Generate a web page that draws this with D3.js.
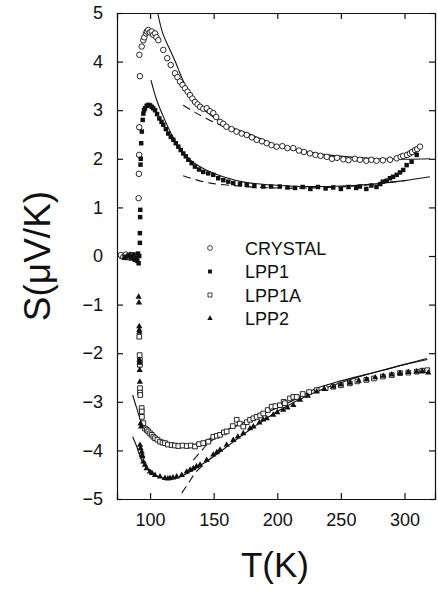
<!DOCTYPE html>
<html>
<head>
  <style>
    body { margin: 0; background: #fff; font-family: "Liberation Sans", Arial, sans-serif; }
    .axis text { font-size: 18px; fill: #111; font-family: "Liberation Sans", Arial, sans-serif; }
    .axis path, .axis line { stroke: #111; stroke-width: 1.2; }
    .fit { fill: none; stroke: #111; stroke-width: 1.1; }
    .dash { fill: none; stroke: #111; stroke-width: 1.1; stroke-dasharray: 8,5; }
    .title { fill: #111; }
  </style>
</head>
<body>
  <script src="https://d3js.org/d3.v7.min.js"></script>
  <script>
    // tick labels
    var xTicks = [100, 150, 200, 250, 300];
    var yTicks = [-5, -4, -3, -2, -1, 0, 1, 2, 3, 4, 5];
    var legendNames = ["CRYSTAL", "LPP1", "LPP1A", "LPP2"];

    // CRYSTAL (open circles)
    var crystalT = [77,79,81,83,85,87,89,91,91.2,91.4,91.5,92,91.6,93.4,94.7,95.5,96.8,97.5,98.6,99.8,101.3,102.5,103.9,105,106.5,110.4,113.5,116.2,119.6,121.5,123.5,125.5,127.5,129.5,131.4,133.3,135.3,137.3,139.3,141.8,144.5,147,149.7,152,155,157.5,160,164,168,172,176,180,183.8,188,191.7,195.5,199.5,204,208,212.6,217,221,225.7,230,234,238.9,243,247,252,256,261,265,270,274,278,283,288.6,293.9,297,299,302,304.3,306,308.3,310,312.2];
    var crystalS = [0.02,-0.02,0.03,0,0.02,-0.03,0.01,1.19,1.69,2.08,2.65,3.7,4.14,4.31,4.44,4.5,4.58,4.62,4.65,4.6,4.62,4.55,4.58,4.5,4.44,4.24,4.07,3.93,3.76,3.68,3.59,3.52,3.45,3.38,3.31,3.24,3.17,3.12,3.07,3.03,3.04,2.98,2.94,2.86,2.76,2.72,2.66,2.61,2.56,2.52,2.49,2.44,2.39,2.36,2.32,2.28,2.25,2.26,2.22,2.22,2.17,2.14,2.11,2.08,2.06,2.04,2.0,2.02,1.99,1.97,2.0,1.98,1.96,1.98,1.96,1.97,1.98,2.01,2.04,2.06,2.08,2.11,2.14,2.18,2.2,2.25];

    // LPP1 (filled squares)
    var lpp1T = [80,83,85,87,88,89,90,90.5,91,91.5,92,92,92.2,92.3,92.5,92.7,93,93.5,94.2,94.7,95.3,96,97.3,98.6,100,101.3,102.5,103.9,105.5,107.3,109,110.4,112.4,114.3,116.3,118.3,120.2,122.2,124.1,126.1,128.1,130.1,132.7,135.3,138.5,141.8,145.7,149.7,153.6,157.6,161.5,165.4,170.7,176,182,189,195,202,208,214,220,226,232,238,244,250,256,262,265,270,274,278,281,283,286,288.6,291,293.9,296.5,299,301.7,305.6,309.6];
    var lpp1S = [-0.02,0,-0.05,0.02,-0.08,-0.03,-0.1,0.05,-0.15,0,0.27,0.47,0.8,0.95,1.88,2.0,2.32,2.56,2.8,2.93,3.0,3.04,3.09,3.11,3.1,3.07,3.04,3.0,2.92,2.83,2.76,2.7,2.61,2.52,2.45,2.39,2.32,2.25,2.18,2.11,2.05,1.98,1.91,1.84,1.78,1.73,1.7,1.67,1.6,1.56,1.53,1.5,1.48,1.46,1.44,1.43,1.43,1.43,1.41,1.4,1.42,1.38,1.42,1.39,1.41,1.38,1.42,1.4,1.43,1.38,1.45,1.42,1.48,1.53,1.55,1.6,1.63,1.67,1.72,1.77,1.87,1.94,2.08];

    // LPP1A (open squares)
    var lpp1aT = [78,82,86,89,91.5,91.8,92,92,92.1,92.1,92.3,93.4,93.5,93.6,94.7,96,97.5,98.6,100,101.3,102.6,103.9,105.8,107.8,109.8,111.7,114,117,119.5,122.2,125.5,128.8,132,135.3,138.5,141.8,145.8,149.7,152.5,155,158,160.2,165,168.1,170.5,173.3,176,178.6,181.2,183.8,186.5,189,192.5,195.6,198.5,202.1,205,206,210,212.6,215.3,220,225,231,238,244,250,257,263,270,276,283,290,296.5,303,309.6,314,318];
    var lpp1aS = [0,-0.03,0.02,-0.02,-1.66,-2.04,-2.14,-2.24,-2.72,-2.81,-2.86,-3.13,-3.2,-3.31,-3.44,-3.55,-3.58,-3.61,-3.65,-3.68,-3.72,-3.75,-3.78,-3.82,-3.84,-3.85,-3.88,-3.89,-3.9,-3.91,-3.9,-3.91,-3.9,-3.92,-3.87,-3.85,-3.82,-3.72,-3.7,-3.68,-3.63,-3.61,-3.5,-3.37,-3.45,-3.51,-3.42,-3.37,-3.34,-3.31,-3.28,-3.24,-3.17,-3.1,-3.09,-3.07,-3.0,-3.03,-2.93,-2.9,-2.9,-2.84,-2.8,-2.76,-2.72,-2.69,-2.66,-2.62,-2.58,-2.55,-2.52,-2.48,-2.45,-2.41,-2.4,-2.38,-2.36,-2.35];

    // LPP2 (filled triangles)
    var lpp2T = [80,84,88,91,91.3,91.5,91.5,91.6,91.7,91.8,91.8,92,92.5,93,92.1,92.5,93.4,93.8,94,94.7,96,97.3,99.9,101.5,103.9,107.8,111.7,114,115.7,118,120.9,124.9,128.8,131.5,134,136.5,139.3,144.5,149.7,152.5,155,160.2,165.4,169,173.3,178.6,181.2,186,189,191.7,196.8,200,204.7,208,212.6,217.9,224,231,237,244.1,250,257.2,264,270.3,277,283.4,290,296.5,303,309.6,314,318.7];
    var lpp2S = [-0.04,0.02,-0.06,-0.84,-0.96,-1.45,-1.52,-1.56,-2.14,-2.2,-2.35,-2.59,-3.45,-3.51,-3.89,-3.96,-4.03,-4.1,-4.13,-4.23,-4.3,-4.37,-4.44,-4.47,-4.51,-4.54,-4.57,-4.58,-4.57,-4.56,-4.54,-4.51,-4.44,-4.4,-4.37,-4.33,-4.3,-4.2,-4.09,-4.04,-3.99,-3.89,-3.79,-3.72,-3.65,-3.55,-3.51,-3.43,-3.37,-3.34,-3.27,-3.22,-3.17,-3.12,-3.07,-2.96,-2.88,-2.79,-2.74,-2.69,-2.65,-2.61,-2.57,-2.54,-2.5,-2.47,-2.44,-2.41,-2.39,-2.38,-2.37,-2.4];

    // fitted curves (solid) and high-T fits (dashed)
    var crystalFitT = [106,110,115.7,120,123.5,128,133.8,140,149.6,160,176,190,202,220,240,260,280,300,320];
    var crystalFitS = [5,4.58,4.24,3.99,3.76,3.5,3.27,3.07,2.86,2.69,2.53,2.38,2.25,2.16,2.08,2.03,2.0,1.99,2.0];
    var lpp1FitT = [100.7,105.2,110.4,118,128.8,141.8,157.5,176,196.6,220,240,260,280,300,320];
    var lpp1FitS = [3.62,3.21,2.87,2.45,2.04,1.8,1.63,1.51,1.46,1.43,1.43,1.45,1.49,1.55,1.63];
    var lpp1aFitT = [86.3,89.5,94.7,102.6,115.7,128.8,144.5,160.2,181,202,217.9,231,250,283.3,300,317.5];
    var lpp1aFitS = [-2.86,-3.13,-3.51,-3.72,-3.89,-3.91,-3.79,-3.58,-3.34,-3.1,-2.9,-2.72,-2.57,-2.35,-2.23,-2.11];
    var lpp2FitT = [86.3,89.5,93.4,100,110.4,120.9,131.4,149.7,176,202,231,260,290,318];
    var lpp2FitS = [-3.72,-3.92,-4.2,-4.44,-4.57,-4.57,-4.44,-4.13,-3.62,-3.17,-2.79,-2.52,-2.3,-2.13];

    var crystalDashT = [126,135,145,160];
    var crystalDashS = [3.1,2.96,2.82,2.64];
    var lpp1DashT = [126,145,170,200,240,270,290,300];
    var lpp1DashS = [1.65,1.51,1.44,1.4,1.41,1.46,1.52,1.55];
    var lpp1aDashT = [134,140,146,160,180];
    var lpp1aDashS = [-4.2,-4.02,-3.85,-3.6,-3.35];
    var lpp2DashT = [124.9,130,136,146,160];
    var lpp2DashS = [-4.88,-4.68,-4.45,-4.2,-3.92];

    var margin = {top: 13, right: 3, bottom: 91, left: 117};
    var W = 438, H = 590;
    var width = W - margin.left - margin.right, height = H - margin.top - margin.bottom;

    var svg = d3.select("body").append("svg")
        .attr("width", W)
        .attr("height", H)
      .append("g")
        .attr("transform", "translate(" + margin.left + "," + margin.top + ")");

    var x = d3.scaleLinear().domain([74, 324]).range([0, width]);
    var y = d3.scaleLinear().domain([-5, 5]).range([height, 0]);

    function pts(ts, ss) { return ts.map(function(t, i){ return [t, ss[i]]; }); }

    var fmt = function(d){ return d < 0 ? "\u2212" + Math.abs(d) : d; };

    svg.append("g").attr("class", "axis")
        .attr("transform", "translate(0," + height + ")")
        .call(d3.axisBottom(x).tickValues(xTicks).tickSize(-6).tickPadding(14));
    svg.append("g").attr("class", "axis")
        .call(d3.axisTop(x).tickValues(xTicks).tickSize(-6).tickFormat(""));
    svg.append("g").attr("class", "axis")
        .call(d3.axisLeft(y).tickValues(yTicks).tickSize(-6).tickPadding(14).tickFormat(fmt));
    svg.append("g").attr("class", "axis")
        .attr("transform", "translate(" + width + ",0)")
        .call(d3.axisRight(y).tickValues(yTicks).tickSize(-6).tickFormat(""));
    svg.selectAll(".axis .domain").attr("stroke-width", 1.3);

    var line = d3.line()
      .x(function(d){ return x(d[0]); })
      .y(function(d){ return y(d[1]); })
      .curve(d3.curveCatmullRom);

    [[crystalFitT, crystalFitS], [lpp1FitT, lpp1FitS], [lpp1aFitT, lpp1aFitS], [lpp2FitT, lpp2FitS]].forEach(function(f){
      svg.append("path").attr("class", "fit").attr("d", line(pts(f[0], f[1])));
    });
    [[crystalDashT, crystalDashS], [lpp1DashT, lpp1DashS], [lpp1aDashT, lpp1aDashS], [lpp2DashT, lpp2DashS]].forEach(function(f){
      svg.append("path").attr("class", "dash").attr("d", line(pts(f[0], f[1])));
    });

    var styles = [
      {type: d3.symbolCircle, size: 24, fill: "#fff", stroke: "#111"},
      {type: d3.symbolSquare, size: 20, fill: "#111", stroke: "none"},
      {type: d3.symbolSquare, size: 22, fill: "#fff", stroke: "#111"},
      {type: d3.symbolTriangle, size: 17, fill: "#111", stroke: "none"}
    ];
    var series = [pts(crystalT, crystalS), pts(lpp1T, lpp1S), pts(lpp1aT, lpp1aS), pts(lpp2T, lpp2S)];

    // draw open squares and circles first, filled on top like the scan
    [2, 0, 3, 1].forEach(function(k){
      var st = styles[k];
      svg.append("g").selectAll("path")
        .data(series[k])
        .enter().append("path")
          .attr("transform", function(d){ return "translate(" + x(d[0]) + "," + y(d[1]) + ")"; })
          .attr("d", d3.symbol().type(st.type).size(st.size))
          .attr("fill", st.fill)
          .attr("stroke", st.stroke)
          .attr("stroke-width", 0.9);
    });

    // legend
    var legend = svg.append("g").attr("transform", "translate(" + (210 - margin.left) + "," + (248 - margin.top) + ")");
    legendNames.forEach(function(name, i){
      var st = styles[i];
      var g = legend.append("g").attr("transform", "translate(0," + (i * 23.5) + ")");
      g.append("path")
        .attr("d", d3.symbol().type(st.type).size(st.size * 0.75))
        .attr("fill", st.fill).attr("stroke", st.stroke).attr("stroke-width", 0.8);
      g.append("text")
        .attr("x", 35).attr("y", 6.5)
        .style("font-size", "18px")
        .attr("fill", "#111")
        .text(name);
    });

    // axis titles
    svg.append("text").attr("class", "title")
      .attr("x", 275 - margin.left).attr("y", 577 - margin.top)
      .attr("text-anchor", "middle")
      .style("font-size", "35px")
      .text("T(K)");

    svg.append("text").attr("class", "title")
      .attr("transform", "translate(" + (50 - margin.left) + "," + (256 - margin.top) + ") rotate(-90)")
      .attr("text-anchor", "middle")
      .style("font-size", "37px")
      .text("S(\u03BCV/K)");
  </script>
</body>
</html>
